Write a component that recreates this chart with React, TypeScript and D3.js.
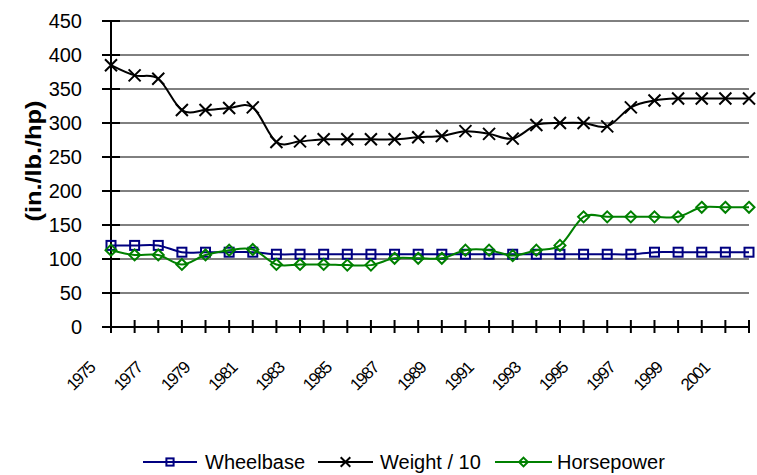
import React from "react";
import * as d3 from "d3";

const years = [
  "1975", "1976", "1977", "1978", "1979", "1980", "1981", "1982", "1983", "1984",
  "1985", "1986", "1987", "1988", "1989", "1990", "1991", "1992", "1993", "1994",
  "1995", "1996", "1997", "1998", "1999", "2000", "2001", "2002",
];
const yearLabels = ["1975", "1977", "1979", "1981", "1983", "1985", "1987", "1989", "1991", "1993", "1995", "1997", "1999", "2001"];
const yTicks = [0, 50, 100, 150, 200, 250, 300, 350, 400, 450];

const wheelbase = [120, 120, 120, 110, 110, 110, 110, 107, 107, 107, 107, 107, 107, 107, 107, 107, 107, 107, 107, 107, 107, 107, 107, 110, 110, 110, 110, 110];
const weight10 = [385, 370, 365, 319, 319, 322, 323, 272, 273, 276, 276, 276, 276, 279, 281, 288, 284, 277, 297, 300, 300, 295, 323, 333, 336, 336, 336, 336];
const horsepower = [113, 106, 106, 92, 106, 113, 114, 92, 92, 92, 91, 91, 101, 101, 101, 113, 113, 105, 113, 120, 162, 162, 162, 162, 162, 176, 176, 176];

const seriesNames = ["Wheelbase", "Weight / 10", "Horsepower"];

const W = 757;
const H = 475;
const left = 111;
const right = 749;
const top = 21;
const bottom = 327;
const font = "'Liberation Sans', Arial, sans-serif";

const NAVY = "#000080";
const BLACK = "#000000";
const GREEN = "#008000";

function Marker({ kind, x, y, color, size = 1 }: { kind: string; x: number; y: number; color: string; size?: number }) {
  if (kind === "square") {
    const s = 4.5 * size;
    return <rect x={x - s} y={y - s} width={2 * s} height={2 * s} fill="none" stroke={color} strokeWidth={2} />;
  }
  if (kind === "x") {
    const s = 6 * size;
    return (
      <path d={`M${x - s},${y - s}L${x + s},${y + s}M${x - s},${y + s}L${x + s},${y - s}`} stroke={color} strokeWidth={2} fill="none" />
    );
  }
  const s = 5.5 * size;
  return <path d={`M${x},${y - s}L${x + s},${y}L${x},${y + s}L${x - s},${y}Z`} fill="none" stroke={color} strokeWidth={2} />;
}

export default function App() {
  const x = d3.scalePoint<string>().domain(years).range([left, right]);
  const y = d3.scaleLinear().domain([0, 450]).range([bottom, top]);

  const series = [
    { name: seriesNames[0], values: wheelbase, color: NAVY, kind: "square" },
    { name: seriesNames[1], values: weight10, color: BLACK, kind: "x" },
    { name: seriesNames[2], values: horsepower, color: GREEN, kind: "diamond" },
  ];

  const line = d3
    .line<number>()
    .x((_, i) => x(years[i]) as number)
    .y((d) => y(d))
    .curve(d3.curveCatmullRom.alpha(0));

  const legend = [
    { x1: 143, x2: 197, tx: 205 },
    { x1: 318, x2: 373, tx: 380 },
    { x1: 495, x2: 552, tx: 557 },
  ];
  const ly = 462;

  return (
    <svg width={W} height={H} style={{ position: "absolute", left: 0, top: 0, background: "#fff" }} fontFamily={font}>
      {/* grid */}
      {yTicks.slice(1).map((t) => (
        <line key={t} x1={left} x2={right} y1={y(t)} y2={y(t)} stroke="#000" strokeWidth={1} />
      ))}
      {/* y axis */}
      <line x1={left} x2={left} y1={top} y2={bottom} stroke="#000" strokeWidth={2} />
      {yTicks.map((t) => (
        <g key={t}>
          <line x1={left - 9} x2={left + 9} y1={y(t)} y2={y(t)} stroke="#000" strokeWidth={2} />
          <text x={82} y={y(t)} dy="0.36em" textAnchor="end" fontSize={20}>
            {t}
          </text>
        </g>
      ))}
      {/* x axis */}
      <line x1={left - 9} x2={right} y1={bottom} y2={bottom} stroke="#000" strokeWidth={2} />
      {years.map((yr) => (
        <line key={yr} x1={x(yr)} x2={x(yr)} y1={bottom - 7} y2={bottom + 6} stroke="#000" strokeWidth={2} />
      ))}
      {yearLabels.map((yr) => {
        const px = (x(yr) as number) - 15;
        const py = 369;
        return (
          <text key={yr} x={px} y={py} textAnchor="end" fontSize={17} letterSpacing={-1.5} transform={`rotate(-45,${px},${py})`}>
            {yr}
          </text>
        );
      })}
      <text
        transform="translate(41,161) rotate(-90)"
        textAnchor="middle"
        fontSize={22}
        fontWeight="bold"
        textLength={121}
        lengthAdjust="spacingAndGlyphs"
      >
        (in./lb./hp)
      </text>

      {/* series */}
      {series.map((s) => (
        <g key={s.name}>
          <path d={line(s.values) as string} fill="none" stroke={s.color} strokeWidth={2} />
          {s.values.map((v, i) => (
            <Marker key={i} kind={s.kind} x={x(years[i]) as number} y={y(v)} color={s.color} />
          ))}
        </g>
      ))}

      {/* legend */}
      {series.map((s, i) => (
        <g key={s.name}>
          <line x1={legend[i].x1} x2={legend[i].x2} y1={ly} y2={ly} stroke={s.color} strokeWidth={2} />
          <Marker kind={s.kind} x={(legend[i].x1 + legend[i].x2) / 2} y={ly} color={s.color} size={0.8} />
          <text x={legend[i].tx} y={ly} dy="0.36em" fontSize={20}>
            {s.name}
          </text>
        </g>
      ))}
    </svg>
  );
}
